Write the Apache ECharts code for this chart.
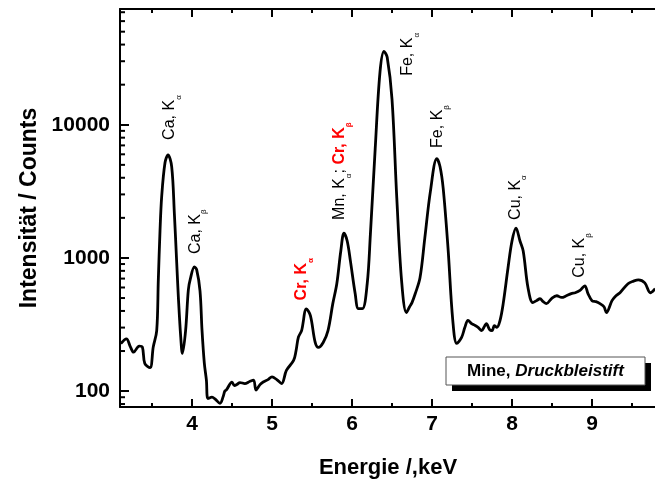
<!DOCTYPE html>
<html>
<head>
    <meta charset="utf-8">
    <title>ECharts</title>
    <script src="https://cdn.jsdelivr.net/npm/echarts@6/dist/echarts.min.js"></script>
    <style type="text/css">
        html, body { margin: 0; height: 100%; background: #fff; }
    </style>
</head>
<body>
<div id="main" style="width: 655px;height:479px;"></div>
<script type="text/javascript">
    var energy = [3.11,3.18,3.23,3.27,3.34,3.38,3.41,3.475,3.516,3.559,
        3.579,3.60,3.621,3.6625,3.70,3.746,3.78,3.809,3.83,3.859,
        3.88,3.92,3.954,3.98,4.03,4.059,4.10,4.125,4.154,4.18,
        4.20,4.25,4.29,4.35,4.39,4.41,4.43,4.50,4.53,4.56,
        4.60,4.66,4.72,4.77,4.80,4.85,4.89,4.95,5.00,5.06,
        5.12,5.18,5.27,5.30,5.33,5.37,5.43,5.48,5.54,5.58,
        5.64,5.70,5.76,5.81,5.86,5.90,5.94,5.98,6.04,6.08,
        6.13,6.19,6.23,6.29,6.35,6.40,6.44,6.50,6.56,6.62,
        6.68,6.72,6.75,6.79,6.85,6.91,6.98,7.06,7.10,7.14,
        7.20,7.26,7.31,7.37,7.41,7.45,7.50,7.54,7.58,7.62,
        7.66,7.68,7.72,7.75,7.78,7.81,7.85,7.89,7.95,8.00,
        8.05,8.10,8.14,8.20,8.26,8.31,8.35,8.39,8.43,8.50,
        8.56,8.62,8.68,8.74,8.79,8.85,8.91,8.95,9.00,9.05,
        9.10,9.15,9.18,9.25,9.30,9.35,9.45,9.52,9.58,9.66,
        9.73,9.79];
    var counts = [227,247,215,196,218,214,161,150,215,285,
        684,1590,2890,5180,5940,4850,2130,916,502,255,
        192,285,574,700,857,813,567,288,162,121,
        88,90,87,81,91,100,102,117,110,112,
        116,114,118,121,102,112,117,122,128,122,
        114,143,170,200,254,285,414,369,232,213,
        232,285,454,640,1128,1537,1341,950,538,416,
        416,640,1510,6620,24900,35500,32100,15600,2810,673,
        389,430,462,538,709,1410,3160,5570,4860,3330,
        1190,339,228,253,300,339,320,311,300,285,
        310,321,290,285,310,301,339,454,841,1341,
        1675,1341,1128,597,462,480,494,470,454,500,
        520,505,520,540,548,570,618,540,478,470,
        454,430,389,478,520,548,640,670,685,650,
        548,588];

    // log axis minor ticks (2..9 within each decade)
    var yMinorTicks = [80,90,200,300,400,500,600,700,800,900,
        2000,3000,4000,5000,6000,7000,8000,9000,
        20000,30000,40000,50000,60000,70000];

    // peak labels: [energy, counts where the text starts, rich text]
    var peakLabels = [
        [3.725, 7700, '{a|Ca, K}{s|α}'],
        [4.04, 1070, '{a|Ca, K}{s|β}'],
        [5.375, 480, '{r|Cr, K}{rs|α}'],
        [5.85, 1930, '{a|Mn, K}{s|α}{a|; }{r|Cr, K}{rs|β}'],
        [6.70, 23300, '{a|Fe, K}{s|α}'],
        [7.075, 6700, '{a|Fe, K}{s|β}'],
        [8.04, 1930, '{a|Cu, K}{s|α}'],
        [8.85, 710, '{a|Cu, K}{s|β}']
    ];

    var xMin = 3.1, xMax = 9.8;
    var font = 'Liberation Sans, Arial, sans-serif';

    var myChart = echarts.init(document.getElementById('main'), null, {renderer: 'canvas'});

    var xAxisBase = {
        type: 'value',
        min: xMin,
        max: xMax,
        splitNumber: 7,
        axisLine: {onZero: false, lineStyle: {color: '#000', width: 2}},
        axisTick: {inside: true, length: 8, lineStyle: {color: '#000', width: 2}},
        minorTick: {show: true, splitNumber: 2, length: 4, lineStyle: {color: '#000', width: 2}},
        splitLine: {show: false}
    };

    var option = {
        animation: false,
        grid: {left: 120, top: 9, width: 536, height: 398, containLabel: false, outerBoundsMode: 'none'},
        xAxis: [
            Object.assign({}, xAxisBase, {
                position: 'bottom',
                name: 'Energie /,keV',
                nameLocation: 'middle',
                nameGap: 50,
                nameTextStyle: {fontFamily: font, fontWeight: 'bold', fontSize: 22, color: '#000'},
                axisLabel: {
                    fontFamily: font, fontWeight: 'bold', fontSize: 21, color: '#000', margin: 7,
                    showMinLabel: false, showMaxLabel: false,
                    formatter: function (v) { return Math.abs(v - Math.round(v)) < 1e-6 ? String(Math.round(v)) : ''; }
                }
            }),
            Object.assign({}, xAxisBase, {
                position: 'top',
                axisLabel: {show: false}
            })
        ],
        yAxis: {
            type: 'log',
            logBase: 10,
            min: 76,
            max: 74000,
            name: 'Intensität / Counts',
            nameLocation: 'middle',
            nameGap: 79,
            nameTextStyle: {fontFamily: font, fontWeight: 'bold', fontSize: 23, color: '#000'},
            axisLine: {lineStyle: {color: '#000', width: 2}},
            axisTick: {inside: true, length: 9, lineStyle: {color: '#000', width: 2}},
            splitLine: {show: false},
            axisLabel: {
                fontFamily: font, fontWeight: 'bold', fontSize: 21, color: '#000', margin: 10,
                formatter: function (v) {
                    var l = Math.log10(v);
                    return Math.abs(l - Math.round(l)) < 1e-6 ? String(Math.round(v)) : '';
                }
            }
        },
        series: [{
            type: 'line',
            data: energy.map(function (e, i) { return [e, counts[i]]; }),
            showSymbol: false,
            smooth: 0.35,
            lineStyle: {color: '#000', width: 2.8},
            clip: true
        }]
    };

    myChart.setOption(option);

    var rich = {
        a: {fontFamily: font, fontSize: 16, fill: '#000', lineHeight: 26},
        s: {fontFamily: font, fontSize: 8, fill: '#000', lineHeight: 7, verticalAlign: 'bottom'},
        r: {fontFamily: font, fontSize: 16, fontWeight: 'bold', fill: '#ff0000', lineHeight: 26},
        rs: {fontFamily: font, fontSize: 8, fontWeight: 'bold', fill: '#ff0000', lineHeight: 7, verticalAlign: 'bottom'}
    };

    var graphics = peakLabels.map(function (d) {
        var p = myChart.convertToPixel({gridIndex: 0}, [d[0], d[1]]);
        return {
            type: 'text',
            x: p[0],
            y: p[1],
            rotation: Math.PI / 2,
            z: 10,
            style: {text: d[2], rich: rich, align: 'left', verticalAlign: 'middle'}
        };
    });

    // minor ticks of the log axis, placed through the axis scale
    yMinorTicks.forEach(function (v) {
        var p = myChart.convertToPixel({gridIndex: 0}, [xMin, v]);
        graphics.push({
            type: 'line', z: 9, silent: true,
            shape: {x1: p[0], y1: p[1], x2: p[0] + 5, y2: p[1]},
            style: {stroke: '#000', lineWidth: 2}
        });
    });

    // legend box with shadow
    graphics.push({type: 'rect', shape: {x: 452, y: 363, width: 199, height: 28}, style: {fill: '#000'}, z: 10});
    graphics.push({type: 'rect', shape: {x: 446, y: 357, width: 199, height: 28}, style: {fill: '#fff', stroke: '#555', lineWidth: 1}, z: 11});
    graphics.push({
        type: 'text', x: 545.5, y: 371, z: 12,
        style: {
            text: '{m|Mine, }{d|Druckbleistift}',
            align: 'center', verticalAlign: 'middle',
            rich: {
                m: {fontFamily: font, fontSize: 17, fontWeight: 'bold', fill: '#000'},
                d: {fontFamily: font, fontSize: 17, fontWeight: 'bold', fontStyle: 'italic', fill: '#000'}
            }
        }
    });

    myChart.setOption({graphic: graphics});
</script>
</body>
</html>
